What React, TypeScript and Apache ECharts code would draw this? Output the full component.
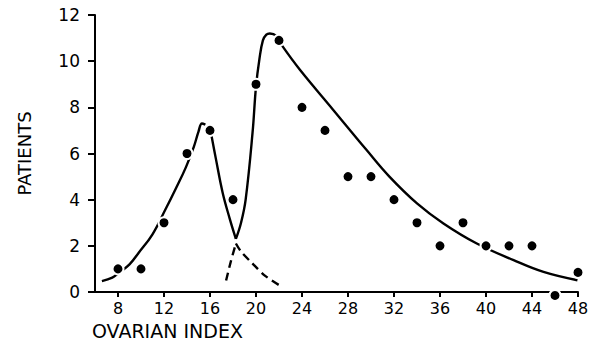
import React, { useEffect, useRef } from "react";
import * as echarts from "echarts";

// Observed points: [ovarian index, patients]
const pointX = [8, 10, 12, 14, 16, 18, 20, 22, 24, 26, 28, 30, 32, 34, 36, 38, 40, 42, 44, 46, 48];
const pointY = [1, 1, 3, 6, 7, 4, 9, 10.9, 8, 7, 5, 5, 4, 3, 2, 3, 2, 2, 2, -0.15, 0.85];

// Fitted curves
const leftCurve: number[][] = [
  [6.6, 0.47], [7.5, 0.62], [8, 0.8], [9, 1.2], [9.8, 1.7], [11, 2.5], [12.1, 3.55],
  [13, 4.45], [13.9, 5.4], [14.6, 6.3], [15.0, 6.95], [15.3, 7.3], [15.6, 7.25],
];
const leftDescend: number[][] = [
  [16.1, 6.85], [16.5, 5.8], [17.1, 4.3], [17.7, 3.2], [18.25, 2.3],
];
const rightCurve: number[][] = [
  [18.25, 2.3], [18.7, 3.0], [19.1, 4.0], [19.7, 6.9], [20.0, 8.9], [20.3, 10.1],
  [20.6, 10.9], [20.9, 11.15], [21.2, 11.2], [21.75, 11.1], [22.3, 10.65],
  [23.8, 9.64], [26.7, 7.9], [29.6, 6.16], [31.6, 5.0], [34, 3.84], [36.3, 2.97],
  [39.2, 2.1], [42.4, 1.38], [45, 0.87], [47.95, 0.51],
];
const dashRise: number[][] = [[17.4, 0.5], [17.8, 1.3], [18.25, 2.1]];
const dashFall: number[][] = [[18.25, 2.1], [18.7, 1.75], [19.7, 1.23], [20.8, 0.7], [22.0, 0.3]];

const xTicks = [8, 12, 16, 20, 24, 28, 32, 36, 40, 44, 48];

const FONT = "DejaVu Sans";

export default function App() {
  const ref = useRef<HTMLDivElement>(null);
  useEffect(() => {
    if (!ref.current) return;
    document.body.style.margin = "0";
    const chart = echarts.init(ref.current, null, { renderer: "svg" });
    const lineStyle = { color: "#000", width: 2.4, opacity: 1 };
    chart.setOption({
      animation: false,
      backgroundColor: "#fff",
      grid: { left: 95, right: 22, top: 15, bottom: 53 },
      xAxis: {
        type: "value",
        min: 6,
        max: 48,
        splitLine: { show: false },
        axisLine: { lineStyle: { color: "#000", width: 2 } },
        axisTick: { customValues: xTicks, length: 5, lineStyle: { color: "#000", width: 2 } },
        axisLabel: {
          customValues: xTicks,
          margin: 8,
          color: "#000",
          fontFamily: FONT,
          fontSize: 16,
        },
      },
      yAxis: {
        type: "value",
        min: 0,
        max: 12,
        interval: 2,
        name: "PATIENTS",
        nameLocation: "middle",
        nameGap: 62,
        nameRotate: 90,
        nameTextStyle: { color: "#000", fontFamily: FONT, fontSize: 18 },
        splitLine: { show: false },
        axisLine: { show: true, lineStyle: { color: "#000", width: 2 } },
        axisTick: { show: true, length: 7, lineStyle: { color: "#000", width: 2 } },
        axisLabel: { margin: 15, color: "#000", fontFamily: FONT, fontSize: 17 },
      },
      graphic: [
        {
          type: "text",
          left: 92,
          top: 321,
          style: { text: "OVARIAN INDEX", fill: "#000", font: `19px "${FONT}"` },
        },
      ],
      series: [
        { type: "line", data: leftCurve, smooth: 0.4, showSymbol: false, lineStyle, z: 2 },
        { type: "line", data: leftDescend, smooth: 0.4, showSymbol: false, lineStyle, z: 2 },
        { type: "line", data: rightCurve, smooth: 0.4, showSymbol: false, lineStyle, z: 2 },
        {
          type: "line", data: dashRise, smooth: 0.3, showSymbol: false,
          lineStyle: { ...lineStyle, type: [8, 5] }, z: 2,
        },
        {
          type: "line", data: dashFall, smooth: 0.3, showSymbol: false,
          lineStyle: { ...lineStyle, type: [8, 5] }, z: 2,
        },
        {
          type: "scatter",
          data: pointX.map((x, i) => [x, pointY[i]]),
          symbol: "circle",
          symbolSize: 11,
          clip: false,
          itemStyle: { color: "#000", opacity: 1, borderColor: "#fff", borderWidth: 2 },
          z: 5,
        },
      ],
    });
    return () => chart.dispose();
  }, []);
  return (
    <div
      ref={ref}
      style={{ position: "fixed", left: 0, top: 0, width: 600, height: 345 }}
    />
  );
}
